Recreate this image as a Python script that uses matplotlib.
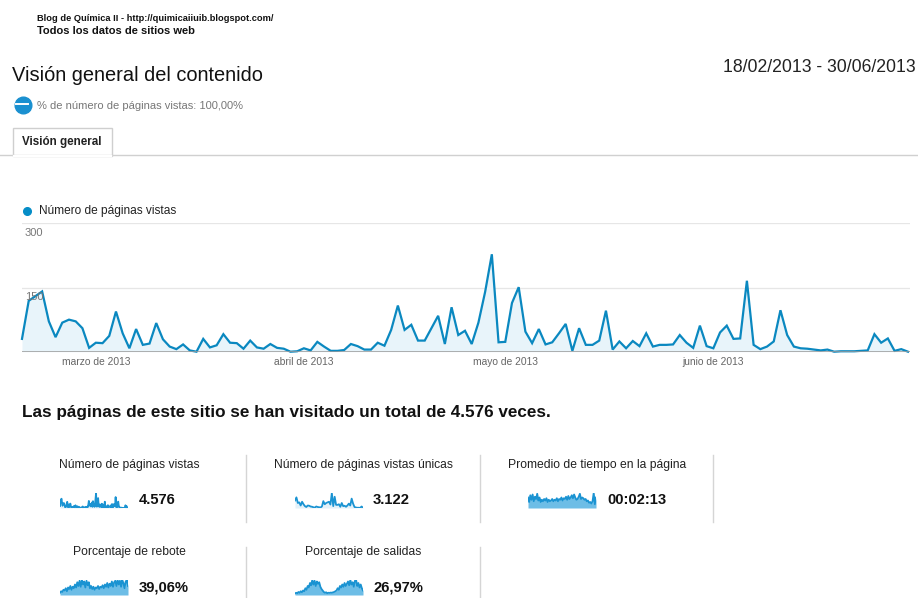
import matplotlib
matplotlib.use("Agg")
import matplotlib.pyplot as plt
from matplotlib.lines import Line2D
from matplotlib.patches import Rectangle
import numpy as np
import pandas as pd

plt.rcParams['font.family'] = ['Liberation Sans', 'DejaVu Sans']

W, H = 918, 598
BLUE = '#058dc7'

# ---- data ------------------------------------------------------------------
dates = pd.date_range('2013-02-18', '2013-06-30', freq='D')
pageviews = [
    30, 119, 130, 141, 71, 34, 68, 75, 71, 55, 9, 21, 20, 37, 94, 43, 8, 53, 16, 19,
    67, 29, 12, 6, 17, 3, 0, 30, 10, 15, 41, 21, 20, 7, 26, 10, 7, 18, 9, 7,
    0, 1, 8, 3, 23, 12, 2, 2, 4, 18, 13, 5, 5, 21, 14, 51, 108, 51, 63, 26,
    26, 55, 84, 18, 104, 39, 49, 18, 68, 140, 228, 22, 23, 114, 151, 47, 20, 53, 17, 22,
    43, 65, 2, 55, 16, 16, 26, 96, 5, 24, 8, 25, 13, 43, 12, 16, 16, 17, 39, 21,
    9, 61, 13, 8, 45, 61, 30, 31, 166, 16, 6, 12, 24, 97, 39, 12, 8, 7, 5, 3,
    5, 0, 1, 1, 1, 2, 3, 41, 21, 31, 2, 6, 0,
]
month_ticks = ['2013-03-01', '2013-04-01', '2013-05-01', '2013-06-01']
month_labels = ['marzo de 2013', 'abril de 2013', 'mayo de 2013', 'junio de 2013']

# sparklines (coarse readings of the tiny charts)
unique_spark = [60, 85, 40, 45, 20, 50, 30, 15, 8, 20, 18, 12, 10, 6, 3, 12, 8, 6, 4, 12,
                55, 30, 40, 45, 50, 28, 120, 15, 90, 25, 25, 30, 10, 40, 15, 18, 10, 20,
                35, 20, 75, 35, 8, 4, 2, 2, 1, 12, 2]
time_spark = [70, 40, 85, 55, 90, 45, 75, 60, 95, 50, 70, 40, 55, 45, 60, 50, 65, 40, 55, 45,
              50, 60, 45, 55, 50, 65, 45, 60, 55, 70, 50, 65, 60, 75, 55, 80, 60, 70, 85, 65,
              90, 70, 55, 60, 75, 95, 60, 70, 65, 55, 60, 45, 50, 35, 40, 30, 45, 100, 25, 70]
bounce_spark = [15, 25, 20, 35, 30, 45, 25, 50, 40, 60, 35, 55, 45, 70, 50, 85, 60, 95, 55, 100,
                70, 90, 50, 95, 65, 85, 45, 60, 40, 55, 35, 50, 45, 60, 40, 55, 50, 65, 45, 70,
                55, 80, 50, 75, 60, 90, 55, 85, 95, 60, 100, 70, 95, 55, 100, 80, 45, 90, 100, 60]
exits_spark = [10, 15, 12, 20, 15, 25, 18, 30, 25, 45, 35, 60, 50, 80, 65, 100, 70, 95, 60, 90,
               75, 85, 55, 40, 30, 20, 15, 18, 12, 15, 14, 16, 15, 18, 20, 25, 30, 45, 35, 60,
               50, 70, 55, 80, 60, 75, 90, 65, 100, 70, 85, 55, 95, 100, 60, 80, 50, 70, 45, 30]

cards = [
    ('Número de páginas vistas', '4.576', pageviews, False),
    ('Número de páginas vistas únicas', '3.122', unique_spark, False),
    ('Promedio de tiempo en la página', '00:02:13', time_spark, True),
    ('Porcentaje de rebote', '39,06%', bounce_spark, True),
    ('Porcentaje de salidas', '26,97%', exits_spark, True),
]

# ---- helpers (pixel coords, y from top) -------------------------------------
def fx(x):
    return x / W

def fy(y):
    return 1 - y / H

fig = plt.figure(figsize=(W / 100, H / 100), dpi=100)

def txt(x, y, s, **kw):
    fig.text(fx(x), fy(y), s, **kw)

def hline(x0, x1, y, **kw):
    fig.add_artist(Line2D([fx(x0), fx(x1)], [fy(y), fy(y)], transform=fig.transFigure, **kw))

def vline(x, y0, y1, **kw):
    fig.add_artist(Line2D([fx(x), fx(x)], [fy(y0), fy(y1)], transform=fig.transFigure, **kw))

# ---- header ----------------------------------------------------------------
txt(37, 18.5, 'Blog de Química II - http://quimicaiiuib.blogspot.com/', fontsize=6.7,
    fontweight='bold', va='center', color='#111')
txt(37, 31, 'Todos los datos de sitios web', fontsize=8.0, fontweight='bold',
    va='center', color='#111')
txt(12, 75.5, 'Visión general del contenido', fontsize=14.4, va='center', color='#111')
txt(916, 68, '18/02/2013 - 30/06/2013', fontsize=12.7, va='center', ha='right', color='#222')

fig.add_artist(Line2D([fx(22.5)], [fy(105)], marker='o', markersize=12, color='#1a90d0',
                      transform=fig.transFigure))
hline(16, 28, 104.5, color='white', lw=1.4)
txt(37, 106, '% de número de páginas vistas: 100,00%', fontsize=8.0, va='center', color='#777')

# tab
hline(0, W, 155, color='#d0d0d0', lw=1)
fig.add_artist(Rectangle((fx(13), fy(156)), fx(112) - fx(13), fy(128) - fy(156),
                         transform=fig.transFigure, facecolor='white', edgecolor='#cfcfcf',
                         lw=1))
hline(13.6, 111.4, 155.5, color='white', lw=1.6)
txt(22, 142, 'Visión general', fontsize=8.4, fontweight='bold', va='center', color='#222')

# legend
fig.add_artist(Line2D([fx(27)], [fy(211)], marker='o', markersize=5.5, color=BLUE,
                      transform=fig.transFigure))
txt(39, 211, 'Número de páginas vistas', fontsize=8.6, va='center', color='#222')

# ---- main chart ------------------------------------------------------------
top, base = 223.5, 351.7
ax = fig.add_axes([fx(22), fy(base), fx(910) - fx(22), fy(top) - fy(base)])
ax.fill_between(dates, pageviews, color='#e8f4fa', lw=0)
ax.plot(dates, pageviews, color='#0a88c0', lw=1.6, clip_on=False, solid_joinstyle='miter')
ax.set_xlim(dates[0], dates[0] + pd.Timedelta(days=132.3))
ax.set_ylim(0, 300)
for v in (150, 300):
    ax.axhline(v, color='#e6e6e6', lw=0.9, zorder=0)
    ax.annotate(str(v), xy=(0, v), xycoords=('axes fraction', 'data'), xytext=(2, -3),
                textcoords='offset points', fontsize=8, color='#777', va='top')
ax.axhline(0, color='#9a9a9a', lw=1.1, zorder=3)
ax.set_xticks(pd.to_datetime(month_ticks))
ax.set_xticklabels(month_labels, fontsize=7.4, color='#666')
ax.tick_params(axis='x', length=0, pad=4)
ax.set_yticks([])
for s in ax.spines.values():
    s.set_visible(False)
ax.patch.set_alpha(0)

# ---- summary ---------------------------------------------------------------
txt(22, 412, 'Las páginas de este sitio se han visitado un total de 4.576 veces.',
    fontsize=12.3, fontweight='bold', va='center', color='#111')

col_title_x = [129, 363, 597]
spark_x = [60, 295, 528]
value_x = [139, 373, 607]
rows = [(465, 500), (552, 587)]

for k, (title, value, series, dense) in enumerate(cards):
    r, c = divmod(k, 3)
    ty, vy = rows[r]
    txt(col_title_x[c], ty, title, fontsize=8.7, ha='center', va='center', color='#222')
    txt(value_x[c], vy, value, fontsize=10.6, fontweight='bold', va='center', color='#111')
    sax = fig.add_axes([fx(spark_x[c]), fy(vy + 8), fx(68), fy(vy - 7) - fy(vy + 8)])
    xs = np.arange(len(series))
    fill = '#6dbde6' if dense else '#e3f1f9'
    sax.fill_between(xs, series, color=fill, lw=0)
    sax.plot(xs, series, color='#1a93d2', lw=1.3)
    sax.set_xlim(0, len(series) - 1)
    sax.set_ylim(0, max(series))
    sax.axis('off')

for x in (246, 480, 713):
    vline(x, 455, 522, color='#d5d5d5', lw=1)
for x in (246, 480):
    vline(x, 547, 598, color='#d5d5d5', lw=1)

fig.savefig('out.png', dpi=100)
